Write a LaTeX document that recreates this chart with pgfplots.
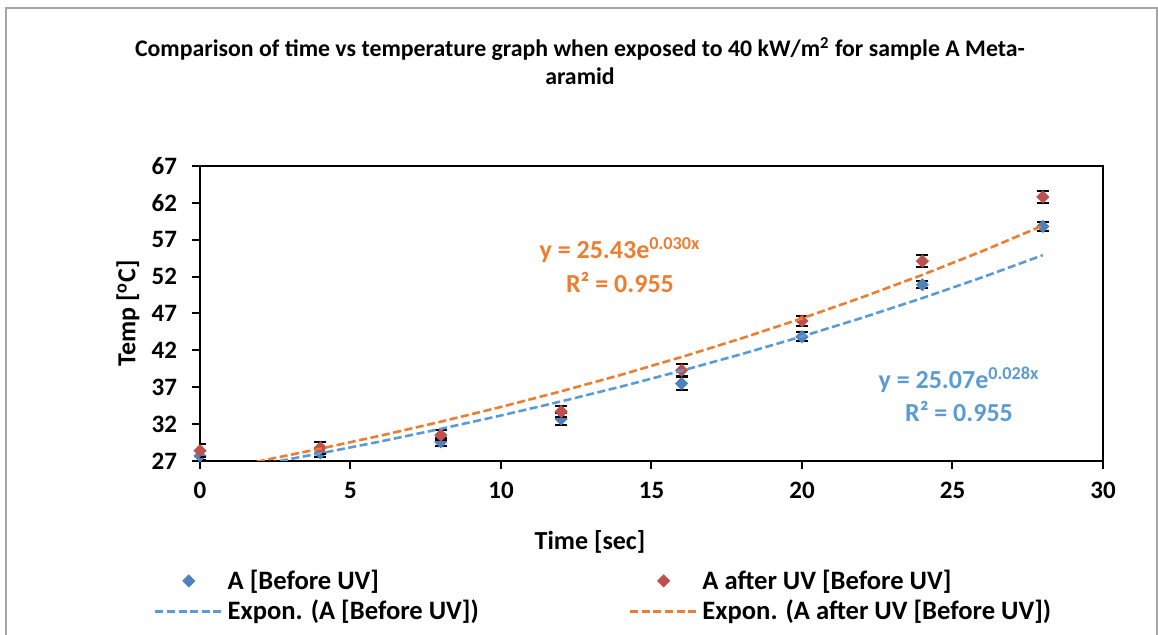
\documentclass[border=0pt]{standalone}
\usepackage{pgfplots}
\pgfplotsset{compat=1.18}
\usepackage{fontspec}
\setmainfont{Carlito}
\definecolor{ptblue}{HTML}{4F81BD}
\definecolor{ptred}{HTML}{C0504D}
\definecolor{fitblue}{HTML}{5B9BD5}
\definecolor{fitorange}{HTML}{ED7D31}
\begin{document}
\begin{tikzpicture}
\begin{axis}[
    scale only axis,
    width=451.5pt, height=147.5pt,
    xmin=0, xmax=30, ymin=27, ymax=67,
    xtick={0,5,...,30}, ytick={27,32,...,67},
    xtick pos=bottom, ytick pos=left,
    tick align=outside, major tick length=4pt,
    tick style={black, line width=1pt},
    axis line style={line width=1pt},
    clip mode=individual,
    /pgf/number format/assume math mode=true,
    ticklabel style={font=\fontsize{12.5}{14}\selectfont\bfseries},
    xticklabel style={yshift=-3pt},
    yticklabel style={xshift=-4pt},
    legend columns=2,
    legend cell align=left,
    legend style={at={(-0.058,-0.34)}, anchor=north west, draw=none, fill=none,
        font=\fontsize{13.3}{15}\selectfont\bfseries, row sep=0pt,
        /tikz/every even column/.append style={column sep=73pt}},
    legend image code/.code={\draw[mark repeat=2,mark phase=2,#1] plot coordinates {(0pt,0pt) (16.75pt,0pt) (33.5pt,0pt)};},
]
% measured points
\addplot[only marks, mark=diamond*, mark size=3pt, color=ptblue, mark options={xscale=1.33},
    error bars/.cd, y dir=both, y explicit,
    error bar style={black, line width=1pt},
    error mark options={rotate=90, black, mark size=3pt, line width=1pt}]
coordinates {
    (0,27.7) +- (0,0.6)
    (4,28.1) +- (0,0.6)
    (8,29.6) +- (0,0.5)
    (12,32.7) +- (0,0.8)
    (16,37.5) +- (0,0.85)
    (20,43.85) +- (0,0.6)
    (24,50.9) +- (0,0.5)
    (28,58.8) +- (0,0.55)
};
\addlegendentry{A [Before UV]}
\addplot[only marks, mark=diamond*, mark size=3pt, color=ptred, mark options={xscale=1.33},
    error bars/.cd, y dir=both, y explicit,
    error bar style={black, line width=1pt},
    error mark options={rotate=90, black, mark size=3pt, line width=1pt}]
coordinates {
    (0,28.4) +- (0,0.9)
    (4,28.8) +- (0,0.8)
    (8,30.5) +- (0,0.7)
    (12,33.7) +- (0,0.7)
    (16,39.3) +- (0,0.8)
    (20,46.0) +- (0,0.7)
    (24,54.1) +- (0,0.8)
    (28,62.8) +- (0,0.8)
};
\addlegendentry{A after UV [Before UV]}
% exponential trendlines
\addplot[fitblue, line width=1.3pt, dash pattern=on 4pt off 1.8pt] coordinates {
    (0,25.07) (2,26.51) (4,28.04) (6,29.65) (8,31.36) (10,33.17) (12,35.08)
    (14,37.10) (16,39.24) (18,41.50) (20,43.89) (22,46.42) (24,49.09)
    (26,51.92) (28,54.91)
};
\addlegendentry{Expon. (A [Before UV])}
\addplot[fitorange, line width=1.3pt, dash pattern=on 4pt off 1.8pt] coordinates {
    (0,25.43) (2,27.00) (4,28.67) (6,30.44) (8,32.33) (10,34.33) (12,36.45)
    (14,38.70) (16,41.10) (18,43.64) (20,46.34) (22,49.20) (24,52.24)
    (26,55.47) (28,58.91)
};
\addlegendentry{Expon. (A after UV [Before UV])}
\end{axis}
% titles and labels
\node[align=center, font=\fontsize{11.9}{14}\selectfont\bfseries] at (190pt,200pt)
    {Comparison of time vs temperature graph when exposed to 40 kW/m\textsuperscript{2} for sample A Meta-\\aramid};
\node[rotate=90, font=\fontsize{13}{14}\selectfont\bfseries] at (-36pt,73.75pt) {Temp [\textsuperscript{o}C]};
\node[font=\fontsize{13}{14}\selectfont\bfseries] at (195pt,-40.5pt) {Time [sec]};
% trendline equations
\node[text=fitorange, font=\fontsize{13}{14}\selectfont\bfseries] at (210pt,105.5pt) {y = 25.43e\textsuperscript{0.030x}};
\node[text=fitorange, font=\fontsize{13}{14}\selectfont\bfseries] at (210pt,89.5pt) {R² = 0.955};
\node[text=fitblue, font=\fontsize{13}{14}\selectfont\bfseries] at (379.5pt,40.5pt) {y = 25.07e\textsuperscript{0.028x}};
\node[text=fitblue, font=\fontsize{13}{14}\selectfont\bfseries] at (379.5pt,25pt) {R² = 0.955};
% chart border
\draw[gray!70, line width=1pt] (-97pt,-95pt) rectangle (478.5pt,226.5pt);
\pgfresetboundingbox
\path[use as bounding box] (-100pt,-87pt) rectangle (479pt,230.5pt);
\end{tikzpicture}
\end{document}
